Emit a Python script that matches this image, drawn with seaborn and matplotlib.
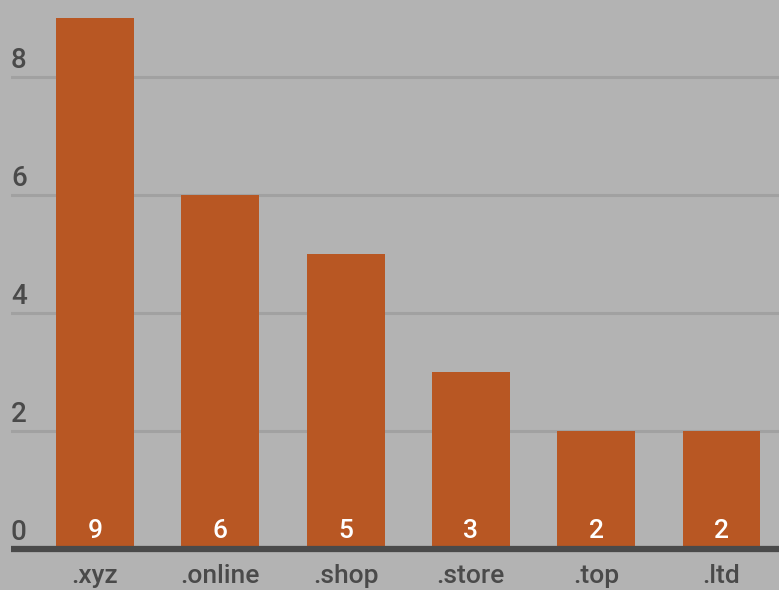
import matplotlib
matplotlib.use("Agg")
import matplotlib.pyplot as plt
import matplotlib.transforms as mtransforms
import seaborn as sns
import pandas as pd

# Top-level domains and their counts
domains = [".xyz", ".online", ".shop", ".store", ".top", ".ltd"]
counts = [9, 6, 5, 3, 2, 2]
y_ticks = [0, 2, 4, 6, 8]

BG = "#b3b3b3"
BAR = "#b85723"
GRID = "#a1a1a1"
AXIS = "#4a4a4a"
TEXT = "#4a4a4a"

sns.set_theme(style="white")
plt.rcParams["font.family"] = ["Roboto", "DejaVu Sans"]

df = pd.DataFrame({"domain": domains, "count": counts})

fig = plt.figure(figsize=(7.79, 5.90), dpi=100, facecolor=BG)
ax = fig.add_axes([11 / 779, 41 / 590, 1 - 11 / 779, 1 - 41 / 590])
ax.set_facecolor(BG)

# Horizontal gridlines behind the bars
for t in y_ticks[1:]:
    ax.axhline(t, color=GRID, linewidth=2.2, zorder=0)

sns.barplot(data=df, x="domain", y="count", color=BAR, width=0.622,
            saturation=1, linewidth=0, edgecolor="none", ax=ax, zorder=2)

ax.set_xlim(-0.670, 5.459)
ax.set_ylim(0, 9.30)

# Thick baseline
ax.axhline(0, color=AXIS, linewidth=4.5, zorder=3, clip_on=False,
           solid_capstyle="butt")

for s in ax.spines.values():
    s.set_visible(False)

ax.set_xlabel("")
ax.set_ylabel("")
ax.set_yticks([])
ax.tick_params(axis="x", length=0, pad=11)
for lab in ax.get_xticklabels():
    lab.set_fontsize(19)
    lab.set_color(TEXT)
    lab.set_fontweight("medium")

# Y tick labels sitting just above each gridline, inside the plot area
trans = mtransforms.blended_transform_factory(ax.transAxes, ax.transData)
up = mtransforms.ScaledTranslation(0, 3 / 100, fig.dpi_scale_trans)
for t in y_ticks:
    ax.text(0.0, t, str(t), transform=trans + up, ha="left", va="bottom",
            fontsize=20, fontweight="medium", color=TEXT, zorder=4)

# Value labels at the foot of each bar
up2 = mtransforms.ScaledTranslation(0, 6 / 100, fig.dpi_scale_trans)
for i, c in enumerate(counts):
    ax.text(i, 0, str(c), transform=ax.transData + up2, ha="center",
            va="bottom", fontsize=19, fontweight="medium", color="white",
            zorder=4)

fig.savefig("out.png", dpi=100, facecolor=BG)
